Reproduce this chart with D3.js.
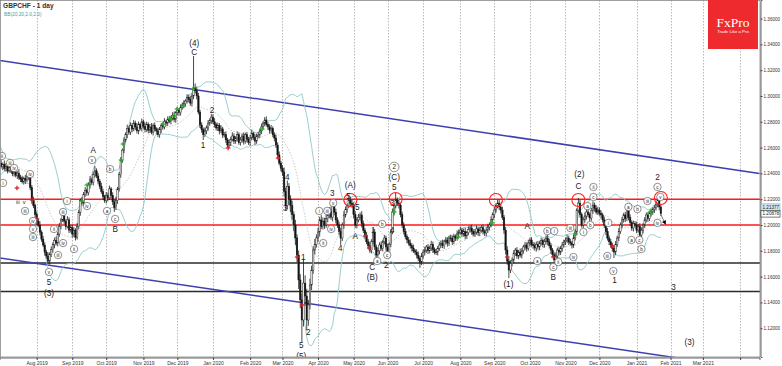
<!DOCTYPE html>
<html><head><meta charset="utf-8">
<script src="https://cdn.jsdelivr.net/npm/d3@7"></script>
<style>
html,body{margin:0;padding:0;background:#fff;}
svg{display:block;font-family:"Liberation Sans",Arial,sans-serif;}
</style></head><body>
<svg id="chart" width="782" height="366"></svg>
<script>
// ---------------- DATA ----------------
const symbolTitle = "GBPCHF - 1 day";
const indicatorTitle = "BB(20,20,2.0,2.0)";
const firstDay = "2019-07-01";
const lastCalendarDay = "2021-04-30";
const lastLabelledMonth = "2021-03-31";

// closes (in 1/10000) for the 20 sessions before the first visible bar (Bollinger warm-up only)
const warmupCloses = [12620,12600,12640,12590,12560,12530,12500,12520,12480,12450,12470,12430,12460,12480,12500,12470,12440,12460,12490,12470];

// daily closes (in 1/10000), one per trading day starting 2019-07-01
const closes = [
12480,12452,12470,12438,12455,12420,12445,12430,12398,12411,
12385,12402,12370,12358,12335,12362,12348,12380,12372,12290,
12190,12150,12080,12030,12000,11945,11890,11845,11790,11760,
11720,11770,11810,11850,11880,11860,11930,11990,12040,12075,
12030,11990,12040,11960,11980,11930,11960,11905,11990,12100,
12190,12170,12235,12270,12250,12310,12350,12330,12390,12420,
12380,12340,12300,12260,12220,12190,12230,12210,12280,12230,
12180,12135,12190,12280,12390,12500,12580,12660,12700,12750,
12720,12770,12745,12790,12760,12730,12780,12750,12800,12765,
12740,12780,12735,12760,12720,12770,12745,12730,12700,12740,
12770,12760,12800,12790,12820,12805,12830,12850,12820,12870,
12890,12870,12910,12930,12940,12960,12990,12975,12945,13000,
13062,13040,13000,12876,12775,12740,12700,12730,12752,12790,
12810,12837,12800,12780,12752,12770,12730,12745,12698,12700,
12660,12620,12640,12665,12690,12650,12674,12700,12640,12659,
12690,12650,12700,12665,12640,12674,12710,12680,12650,12690,
12698,12730,12760,12790,12814,12780,12760,12736,12750,12700,
12674,12620,12543,12480,12440,12411,12260,12150,12300,12200,
12150,12080,12000,11900,11767,11574,11420,11264,11550,11450,
11264,11380,11535,11650,11806,11850,11900,11946,12039,11990,
12030,12000,12050,12078,12110,12060,12155,12100,12039,12000,
11950,11899,12000,12078,12120,12150,12194,12170,12155,12080,
12000,12040,12060,12078,12010,11960,11922,11870,11840,11806,
11870,11946,11830,11767,11800,11845,11820,11870,11899,11830,
11767,11850,11946,12101,12150,12194,12170,12155,12080,12000,
11950,11910,11884,11860,11840,11822,11800,11790,11767,11740,
11713,11760,11790,11806,11830,11800,11822,11850,11810,11790,
11791,11820,11845,11860,11840,11870,11884,11860,11900,11899,
11870,11910,11899,11930,11945,11961,11930,11950,11915,11940,
11965,11977,11950,11930,11946,11970,11940,11961,11980,11950,
11938,11960,11985,12000,12040,12080,12116,12150,12170,12140,
12116,12060,11961,11806,11720,11651,11700,11729,11780,11806,
11760,11790,11767,11800,11830,11845,11820,11860,11884,11850,
11840,11822,11850,11830,11860,11880,11850,11870,11899,11870,
11840,11806,11770,11729,11760,11806,11790,11820,11845,11870,
11880,11899,11870,11860,11845,11900,11946,12116,12170,12080,
12000,12040,12070,12101,12080,12054,12110,12155,12130,12100,
12116,12090,12078,12040,12000,11950,11899,11870,11845,11820,
11791,11850,11899,11950,12000,12040,12078,12050,12116,12060,
12020,11977,12010,12000,11960,11990,11922,11960,12000,12040,
12078,12050,12090,12101,12120,12132,12160,12190,12140,12088];

// upper / lower shadow length of each bar (in 1/10000)
const wickUp = [
18,25,12,30,22,15,28,20,14,26, 22,17,31,19,24,13,27,21,16,29, 20,26,15,23,18,30,14,25,21,17,
28,19,24,16,22,31,18,26,13,23, 25,14,29,20,17,24,22,15,27,19, 16,28,21,25,13,20,30,18,24,37,
19,23,17,27,21,14,26,20,25,15, 24,18,30,16,22,27,13,21,19,28, 15,26,20,24,18,29,22,14,25,17,
27,21,16,23,30,19,25,13,22,20, 18,24,29,15,21,26,17,23,30,14, 22,16,25,20,28,13,24,19,27,21,
248,35,30,24,18,22,15,26,20,23, 17,25,21,28,14,23,19,27,16,22, 26,15,23,19,29,21,14,25,18,24,
20,27,16,22,18,25,30,13,24,19, 23,18,26,14,22,28,17,21,25,15, 19,24,21,27,16,23,35,30,45,25,
30,38,25,40,28,35,45,50,190,60, 55,40,48,35,30,42,28,33,25,38, 30,26,35,22,28,33,24,30,27,21,
25,29,20,31,24,18,39,23,27,22, 28,21,26,19,30,24,17,25,22,29, 20,27,23,18,25,21,28,16,24,19,
26,18,22,27,15,54,20,24,17,23, 21,25,17,23,28,19,26,14,22,27, 18,24,20,26,15,23,19,28,21,16,
25,17,22,19,27,14,24,21,18,26, 20,23,16,28,21,25,18,22,27,15, 24,19,26,17,22,28,15,23,20,25,
17,22,25,20,26,18,23,19,24,28, 21,26,18,24,30,22,27,19,25,16, 23,17,28,21,16,24,20,26,18,22,
19,25,22,27,18,23,15,24,21,26, 24,20,16,22,27,19,25,18,23,17, 22,26,19,24,17,28,21,15,40,25,
18,23,27,20,25,16,22,28,19,24, 26,19,22,17,24,21,27,20,23,18, 21,25,18,26,20,23,17,24,28,19,
23,17,24,20,27,19,25,22,16,21, 19,24,21,26,18,23,20,25,22,17];
const wickDown = [
22,15,27,18,24,20,13,26,19,23, 16,28,21,25,14,22,30,17,24,20, 26,19,23,28,17,24,21,15,27,22,
22,25,18,24,30,19,26,21,23,16, 21,27,16,23,19,28,22,25,18,24, 28,20,25,17,23,21,27,19,24,22,
17,25,22,19,26,18,24,28,15,23, 25,34,19,26,21,24,17,23,20,27, 20,22,26,18,24,21,27,16,25,19,
23,18,25,21,17,26,22,28,19,24, 27,21,18,24,22,16,25,20,23,28, 19,25,22,17,26,23,18,24,21,27,
24,20,27,19,23,25,41,18,26,22, 21,26,18,25,20,24,28,17,23,19, 25,19,23,27,17,22,20,26,18,24,
22,27,20,24,19,26,17,23,28,21, 18,23,26,20,25,17,22,27,24,19, 26,21,24,18,23,30,40,35,28,45,
50,38,45,55,60,70,65,171,50,75, 78,45,35,40,28,33,25,30,36,22, 25,30,22,28,26,20,31,24,27,23,
28,54,24,30,21,26,19,25,22,29, 23,27,20,25,29,22,26,18,24,21, 26,20,24,54,22,27,19,25,21,28,
19,25,22,18,26,21,24,27,20,23, 24,21,26,19,23,28,17,22,25,20, 46,24,19,26,22,25,20,23,27,18,
22,27,20,24,19,25,21,28,23,26, 25,19,23,21,27,18,24,20,26,22, 20,24,26,18,23,21,25,27,19,24,
23,26,21,25,18,24,28,22,20,25, 26,22,30,35,28,62,24,21,27,19, 21,25,19,26,22,24,27,20,23,18,
24,20,27,22,25,19,23,26,21,28, 22,26,21,39,24,20,25,23,27,19, 25,21,24,19,27,22,20,26,23,24,
20,24,22,27,19,25,21,23,26,18, 23,19,26,21,24,28,20,25,22,27, 47,25,21,24,19,26,22,27,20,24,
25,22,27,20,24,19,26,21,25,23, 21,26,19,24,22,27,20,23,25,19];

const priceTicks = [1.12,1.14,1.16,1.18,1.20,1.22,1.24,1.26,1.28,1.30,1.32,1.34,1.36];
const resistanceLevels = [1.2200, 1.2000];
const supportLevels = [1.1705, 1.1485];
const channelUpper = [[0, 1.3275], [470, 1.2399]];
const channelLower = [[0, 1.1744], [470, 1.0876]];
const priceTags = [[1.21377, "1.21377", "bid"], [1.20878, "1.20878", "last"]];
const targetHits = [[217, 1.2194], [245, 1.2202], [307, 1.2194], [358, 1.2194], [409, 1.2209]];
const projection = [[409, 1.2080], [412, 1.2003]];
const buySignals = [[54.1,1.2310],[51,1.2186],[75.2,1.2504],[76.4,1.2628],[101.2,1.2783],[105.5,1.2822],[108,1.2845],[109.8,1.2899],[113.6,1.2922],[119.7,1.3054],[162.4,1.2744],[244.1,1.2101],[283.7,1.1907],[304.8,1.2016],[356.1,1.1930],[402.5,1.2101]];
const sellSignals = [[10.8,1.2287],[20.1,1.2194],[23.2,1.2047],[141.4,1.2597],[172.3,1.2519],[184.1,1.1752],[187.2,1.1380],[226.2,1.1915],[228.7,1.1822],[314,1.1752],[342.5,1.1752],[379,1.1837]];
// wave labels: [bar, price, text, style]  style 0 = plain, 1 = circled, 2 = small plain, 3 = big circled
const waveLabels = [
[1.5,1.2535,"ii",1],[6.5,1.2481,"iii",1],[9.0,1.2442,"iv",1],[2.2,1.2326,"i",1],
[13.3,1.2364,"iv",2],[18.9,1.2395,"iv",1],[11.4,1.2178,"iii",2],[15.2,1.2178,"v",2],
[15.8,1.2109,"iii",1],[20.7,1.2031,"iv",1],[20.7,1.1969,"v",1],[20.7,1.1907,"iii",1],
[30.6,1.1636,"v",1],[30.6,1.1558,"5",0],[30.6,1.1473,"(3)",0],
[41.8,1.2186,"i",1],[39.3,1.2101,"iii",1],[33.7,1.1969,"ii",1],[36.2,1.1767,"iii",1],
[39.3,1.1860,"iv",1],[46.1,1.1814,"ii",1],[54.1,1.2147,"iv",1],[57.2,1.2504,"v",1],
[57.9,1.2581,"A",0],[66.5,1.2109,"a",1],[68.4,1.2434,"b",1],[71.5,1.2047,"c",1],[71.5,1.1969,"B",0],
[120.4,1.3411,"(4)",0],[120.4,1.3341,"C",0],[131.5,1.2891,"2",0],[125.9,1.2620,"1",0],
[177.9,1.2372,"4",0],[176.7,1.2132,"3",0],[187.8,1.1752,"1",0],[190.9,1.1171,"2",0],
[186.6,1.1070,"5",0],[186.6,1.0982,"(5)",0],
[197.7,1.2109,"i",1],[202.7,1.2109,"iii",1],[206.4,1.2171,"v",1],[205.8,1.2248,"3",0],
[200.2,1.1860,"ii",1],[205.1,1.1969,"iv",1],[210.7,1.1822,"4",0],
[216.9,1.2310,"(A)",0],[215.7,1.2225,"5",0],[221.2,1.2140,"5",0],[220,1.1915,"A",0],
[231.1,1.1961,"1",0],[230.5,1.1674,"C",0],[230.5,1.1597,"(B)",0],[233.6,1.1721,"a",1],
[239.2,1.1690,"2",0],[239.8,1.1767,"c",1],[236.7,1.2008,"b",1],[242.9,1.1961,"4",0],
[242.9,1.2171,"3",0],[244.1,1.2450,"2",3],[244.1,1.2372,"(C)",0],[244.1,1.2295,"5",0],
[314.7,1.1543,"(1)",0],[326.4,1.1992,"A",0],[332.6,1.1721,"a",1],[338.8,1.1953,"b",1],
[343.1,1.1953,"i",1],[342.5,1.1674,"c",1],[342.5,1.1597,"B",0],[345.6,1.1713,"ii",1],
[353.0,1.1977,"iii",1],[354.9,1.1752,"iv",1],[358,1.2305,"C",0],[358.6,1.2397,"(2)",0],
[361.1,1.1946,"i",1],[363.6,1.2147,"a",1],[365.4,1.2000,"b",1],[367.3,1.2217,"c",1],
[367.3,1.2295,"ii",1],[375.9,1.1760,"iii",1],[379.6,1.1643,"v",1],[380.3,1.1574,"1",0],
[376.5,1.2016,"i",1],[388.9,1.2140,"a",1],[394.5,1.2124,"b",1],[390.8,1.1884,"a",1],
[395.7,1.1884,"c",1],[397,1.1814,"b",1],[400.7,1.2186,"iii",1],[406.9,1.2295,"c",1],
[406.9,1.2372,"2",0],[406.9,1.2016,"iv",1],[408.7,1.2217,"v",1],
[416.8,1.1519,"3",0],[426.7,1.1093,"(3)",0]];

// ---------------- LAYOUT ----------------
const W = 782, H = 366;
const plot = {left: 0, right: 760, top: 0, bottom: 357};
const svg = d3.select("#chart");

const x = d3.scaleLinear().domain([0, 470]).range([-0.5, 759.5]);
const y = d3.scaleLinear().domain([1.0977, 1.3744]).range([plot.bottom, plot.top]);

// trading calendar (weekdays)
const parse = d3.utcParse("%Y-%m-%d");
const days = d3.utcDay.range(parse(firstDay), d3.utcDay.offset(parse(lastCalendarDay), 1))
  .filter(d => d.getUTCDay() !== 0 && d.getUTCDay() !== 6);
const monthStarts = [];
days.forEach((d, i) => { if (i > 0 && d.getUTCMonth() !== days[i-1].getUTCMonth()) monthStarts.push(i); });
const fmtMonth = d3.utcFormat("%b %Y");
const labelLimit = parse(lastLabelledMonth);

svg.append("rect").attr("width", W).attr("height", H).attr("fill", "#fff");

svg.append("defs").append("clipPath").attr("id", "clip")
  .append("rect").attr("x", plot.left).attr("y", plot.top)
  .attr("width", plot.right - plot.left).attr("height", plot.bottom - plot.top);

const g = svg.append("g").attr("clip-path", "url(#clip)");

// month grid
g.selectAll("line.grid").data(monthStarts).join("line")
  .attr("x1", i => Math.round(x(i)) + 0.5).attr("x2", i => Math.round(x(i)) + 0.5)
  .attr("y1", plot.top).attr("y2", plot.bottom)
  .attr("stroke", "#9a9a9a").attr("stroke-width", 0.7).attr("stroke-dasharray", "1.5,1.5");

// horizontal levels
g.selectAll("line.sup").data(supportLevels).join("line")
  .attr("x1", plot.left).attr("x2", plot.right)
  .attr("y1", d => y(d)).attr("y2", d => y(d))
  .attr("stroke", "#2a2a2a").attr("stroke-width", 1.5);
g.selectAll("line.res").data(resistanceLevels).join("line")
  .attr("x1", plot.left).attr("x2", plot.right)
  .attr("y1", d => y(d)).attr("y2", d => y(d))
  .attr("stroke", "#ff1a1a").attr("stroke-width", 1.4);

// channel
[channelUpper, channelLower].forEach(c => {
  g.append("line")
    .attr("x1", x(c[0][0])).attr("y1", y(c[0][1]))
    .attr("x2", x(c[1][0])).attr("y2", y(c[1][1]))
    .attr("stroke", "#3e3eb0").attr("stroke-width", 1.5);
});

// Bollinger bands
const all = warmupCloses.concat(closes).map(v => v / 10000);
const N = warmupCloses.length;
const bb = closes.map((c, i) => {
  const win = all.slice(N + i - 19, N + i + 1);
  const m = d3.mean(win);
  const sd = Math.sqrt(d3.mean(win, v => (v - m) * (v - m)));
  return {i, m, up: m + 2 * sd, lo: m - 2 * sd};
});
const bbLine = key => d3.line().x(d => x(d.i)).y(d => y(d[key])).curve(d3.curveLinear);
g.append("path").datum(bb).attr("d", bbLine("up")).attr("fill", "none").attr("stroke", "#8fc8c8").attr("stroke-width", 0.9);
g.append("path").datum(bb).attr("d", bbLine("lo")).attr("fill", "none").attr("stroke", "#8fc8c8").attr("stroke-width", 0.9);
g.append("path").datum(bb).attr("d", bbLine("m")).attr("fill", "none").attr("stroke", "#a8a8a8").attr("stroke-width", 0.6).attr("stroke-dasharray", "1.5,1.5");

// candles
const bars = closes.map((c, i) => {
  const o = i ? closes[i-1] : warmupCloses[N-1];
  return {i, o: o/10000, c: c/10000,
          h: (Math.max(o, c) + wickUp[i]) / 10000,
          l: (Math.min(o, c) - wickDown[i]) / 10000};
});
g.selectAll("line.wick").data(bars).join("line")
  .attr("x1", d => x(d.i)).attr("x2", d => x(d.i))
  .attr("y1", d => y(d.h)).attr("y2", d => y(d.l))
  .attr("stroke", "#1a1a1a").attr("stroke-width", 0.8);
g.selectAll("rect.body").data(bars).join("rect")
  .attr("x", d => x(d.i) - 0.75).attr("width", 1.5)
  .attr("y", d => y(Math.max(d.o, d.c)))
  .attr("height", d => Math.max(0.8, Math.abs(y(d.o) - y(d.c))))
  .attr("fill", d => d.c >= d.o ? "#e8e8e8" : "#111")
  .attr("stroke", "#1a1a1a").attr("stroke-width", 0.45);

// signal crosses
const cross = (data, color) => {
  const s = g.selectAll(null).data(data).join("g")
    .attr("transform", d => `translate(${x(d[0])},${y(d[1])})`);
  s.append("line").attr("x1", -2.3).attr("x2", 2.3).attr("stroke", color).attr("stroke-width", 1.3);
  s.append("line").attr("y1", -2.3).attr("y2", 2.3).attr("stroke", color).attr("stroke-width", 1.3);
};
cross(buySignals, "#22b022");
cross(sellSignals, "#dd2222");

// target circles
g.selectAll("circle.hit").data(targetHits).join("circle")
  .attr("cx", d => x(d[0])).attr("cy", d => y(d[1])).attr("r", 6.5)
  .attr("fill", "none").attr("stroke", "#ff2020").attr("stroke-width", 1.1);

// projection arrow
g.append("line")
  .attr("x1", x(projection[0][0])).attr("y1", y(projection[0][1]))
  .attr("x2", x(projection[1][0])).attr("y2", y(projection[1][1]))
  .attr("stroke", "#555").attr("stroke-width", 0.8);
{
  const ax = x(projection[1][0]), ay = y(projection[1][1]);
  const bx = x(projection[0][0]), by = y(projection[0][1]);
  const ang = Math.atan2(ay - by, ax - bx) * 180 / Math.PI;
  g.append("path").attr("d", "M0,0 L-4,-2.2 L-4,2.2 Z").attr("fill", "#000")
    .attr("transform", `translate(${ax},${ay}) rotate(${ang})`);
}

// wave labels
const lab = g.selectAll("g.wave").data(waveLabels).join("g")
  .attr("transform", d => `translate(${x(d[0])},${y(d[1])})`);
lab.filter(d => d[3] === 1 || d[3] === 3).append("circle")
  .attr("r", d => d[3] === 3 ? 4.8 : 3.7)
  .attr("fill", "#fff").attr("stroke", "#444").attr("stroke-width", 0.6);
lab.append("text")
  .attr("text-anchor", "middle").attr("dy", "0.36em")
  .attr("font-size", d => d[3] === 0 ? 8.2 : (d[3] === 3 ? 6.5 : (d[3] === 2 ? 5.5 : 4.6)))
  .attr("fill", "#222")
  .text(d => d[2]);

// plot frame
svg.append("rect").attr("x", 0.5).attr("y", 0.5).attr("width", plot.right - 0.5).attr("height", plot.bottom - 0.5)
  .attr("fill", "none").attr("stroke", "#888").attr("stroke-width", 0.8);

// price axis
const yAxis = svg.append("g").attr("transform", `translate(${plot.right + 0.5},0)`)
  .call(d3.axisRight(y).tickValues(priceTicks).tickFormat(d3.format(".5f")).tickSize(2).tickPadding(1));
yAxis.select(".domain").attr("stroke", "#444").attr("stroke-width", 0.8);
yAxis.selectAll(".tick line").attr("stroke", "#444");
yAxis.selectAll("text").attr("font-size", 4.6).attr("fill", "#333").attr("font-family", "Liberation Sans, Arial, sans-serif");

// price tags on axis
priceTags.forEach(t => {
  const ty = y(t[0]);
  svg.append("rect").attr("x", plot.right + 1).attr("y", ty - 3.4).attr("width", 19).attr("height", 6.8)
    .attr("fill", t[2] === "bid" ? "#d4e6ee" : "#fff")
    .attr("stroke", t[2] === "bid" ? "#7fa8bb" : "#222").attr("stroke-width", 0.6);
  svg.append("text").attr("x", plot.right + 2.5).attr("y", ty).attr("dy", "0.36em")
    .attr("font-size", 4.6).attr("fill", "#222").text(t[1]);
});

// time axis
const xAxis = svg.append("g").attr("transform", `translate(0,${plot.bottom + 0.5})`)
  .call(d3.axisBottom(x).tickValues(monthStarts)
    .tickFormat(i => days[i] <= labelLimit ? fmtMonth(days[i]) : "")
    .tickSize(2.5).tickPadding(1));
xAxis.select(".domain").attr("stroke", "#444").attr("stroke-width", 0.8);
xAxis.selectAll(".tick line").attr("stroke", "#444");
xAxis.selectAll("text").attr("font-size", 5).attr("fill", "#333").attr("font-family", "Liberation Sans, Arial, sans-serif");

// titles
svg.append("text").attr("x", 3).attr("y", 7.5).attr("font-size", 6.6).attr("font-weight", "bold")
  .attr("fill", "#333").text(symbolTitle);
svg.append("text").attr("x", 4).attr("y", 15.5).attr("font-size", 4.8)
  .attr("fill", "#4aa0a0").text(indicatorTitle);

// logo
const logo = svg.append("g").attr("transform", "translate(708,0)");
logo.append("rect").attr("width", 50).attr("height", 49).attr("fill", "#ee2a2e");
logo.append("text").attr("x", 25).attr("y", 26.5).attr("text-anchor", "middle")
  .attr("font-family", "Liberation Serif, DejaVu Serif, serif").attr("font-size", 13.5)
  .attr("fill", "#fff").text("FxPro");
logo.append("text").attr("x", 25).attr("y", 33).attr("text-anchor", "middle")
  .attr("font-size", 4.3).attr("fill", "#fff").text("Trade Like a Pro");
</script>
</body></html>
